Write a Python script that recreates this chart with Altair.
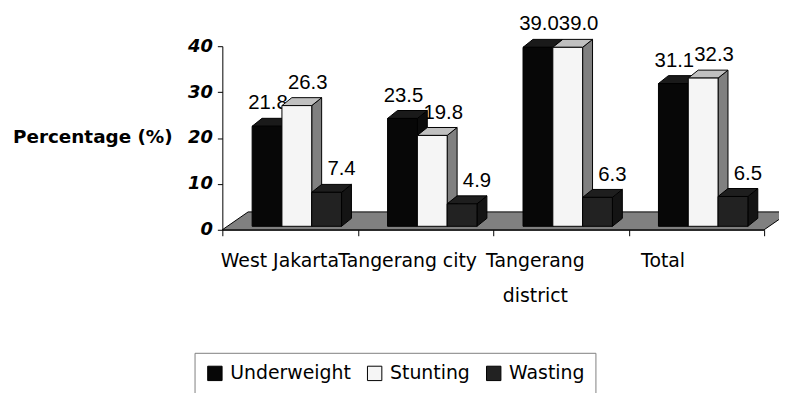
import altair as alt
import pandas as pd

# ---- data ----
categories = ["West Jakarta", "Tangerang city", "Tangerang district", "Total"]
series = ["Underweight", "Stunting", "Wasting"]
underweight = [21.8, 23.5, 39.0, 31.1]
stunting = [26.3, 19.8, 39.0, 32.3]
wasting = [7.4, 4.9, 6.3, 6.5]
y_ticks = [0, 10, 20, 30, 40]

# ---- styling constants (pseudo-3D geometry in axis units) ----
W, H = 546, 185
PX_X = W / 4.0            # px per category unit
PX_Y = H / 40.0           # px per percentage point
GROUP_START = 0.22
BAR_W = 0.22
DX = 10 / PX_X            # depth shift to the right
DY = 8 / PX_Y             # depth shift upwards
BASE = 3.5 / PX_Y         # bars stand slightly inside the floor
FLOOR_DX = 26 / PX_X
FLOOR_DY = 18 / PX_Y
LABEL_DX_PX = [-4, 6, 10]
CAT_LABEL_START = 0.425
CAT_LABEL_STEP = 0.943

front_col = {"Underweight": "#070707", "Stunting": "#f5f5f5", "Wasting": "#222222"}
top_col = {"Underweight": "#1a1a1a", "Stunting": "#c0c0c0", "Wasting": "#1e1e1e"}
side_col = {"Underweight": "#0c0c0c", "Stunting": "#808080", "Wasting": "#141414"}

values = {"Underweight": underweight, "Stunting": stunting, "Wasting": wasting}

front_rows, side_rows, top_rows, label_rows = [], [], [], []
for i, cat in enumerate(categories):
    for j, s in enumerate(series):
        v = values[s][i]
        x0 = i + GROUP_START + j * BAR_W
        x1 = x0 + BAR_W
        bid = f"{i}-{j}"
        front_rows.append(dict(id=bid, series=s, x0=x0, x1=x1, y0=BASE, y1=v + BASE))
        side_rows += [
            dict(id=bid, x=x1, y=BASE, y2=v + BASE, c=side_col[s]),
            dict(id=bid, x=x1 + DX, y=BASE + DY, y2=v + BASE + DY, c=side_col[s]),
        ]
        top_rows += [
            dict(id=bid, y=v + BASE, x=x0, x2=x1, c=top_col[s]),
            dict(id=bid, y=v + BASE + DY, x=x0 + DX, x2=x1 + DX, c=top_col[s]),
        ]
        label_rows.append(dict(x=(x0 + x1) / 2 + DX / 2 + LABEL_DX_PX[j] / PX_X,
                               y=v + BASE + DY, t=f"{v:.1f}"))

front = pd.DataFrame(front_rows)
side = pd.DataFrame(side_rows)
top = pd.DataFrame(top_rows)
labels = pd.DataFrame(label_rows)
floor = pd.DataFrame([
    dict(y=0, x=0, x2=4),
    dict(y=FLOOR_DY, x=FLOOR_DX, x2=4 + FLOOR_DX),
])
cats = pd.DataFrame(dict(
    x=[CAT_LABEL_START + CAT_LABEL_STEP * i for i in range(len(categories))],
    y=[0] * len(categories),
    t=[c.replace("Tangerang district", "Tangerang\ndistrict") for c in categories],
))

xscale = alt.Scale(domain=[0, 4], nice=False, zero=False)
yscale = alt.Scale(domain=[0, 40], nice=False)

floor_layer = alt.Chart(floor).mark_area(
    orient="horizontal", fill="#808080", stroke="black", strokeWidth=1
).encode(
    y=alt.Y("y:Q", scale=yscale, axis=alt.Axis(
        values=y_ticks, title="Percentage (%)", titleAngle=0, titleAlign="center",
        titleBaseline="alphabetic", titleX=-131, titleY=97,
        titleFont="DejaVu Sans", titleFontSize=18.5, titleFontWeight="bold",
        titleColor="black",
        labelFont="DejaVu Sans", labelFontSize=18, labelFontWeight="bold",
        labelFontStyle="italic", labelColor="black", labelPadding=5,
        tickSize=5, tickColor="black", domainColor="black", grid=False)),
    x=alt.X("x:Q", scale=xscale, axis=alt.Axis(
        values=[0, 1, 2, 3, 4], labels=False, title=None, tickSize=6,
        tickColor="black", domainColor="black", grid=False)),
    x2="x2:Q",
)

label_layer = alt.Chart(labels).mark_text(
    font="Liberation Sans", fontSize=20.5, color="black", baseline="alphabetic",
    align="center", dy=-9
).encode(x="x:Q", y="y:Q", text="t:N")

side_layer = alt.Chart(side).mark_area(stroke="black", strokeWidth=1).encode(
    x="x:Q", y="y:Q", y2="y2:Q", detail="id:N",
    fill=alt.Fill("c:N", scale=None),
)

top_layer = alt.Chart(top).mark_area(orient="horizontal", stroke="black", strokeWidth=1).encode(
    y="y:Q", x="x:Q", x2="x2:Q", detail="id:N",
    fill=alt.Fill("c:N", scale=None),
)

front_layer = alt.Chart(front).mark_rect(stroke="black", strokeWidth=1).encode(
    x="x0:Q", x2="x1:Q", y="y0:Q", y2="y1:Q",
    fill=alt.Fill("series:N",
                  scale=alt.Scale(domain=series, range=[front_col[s] for s in series]),
                  legend=alt.Legend(
                      title=None, orient="none", legendX=-28, legendY=309,
                      direction="horizontal", symbolType="square", symbolSize=210,
                      symbolStrokeColor="black", symbolStrokeWidth=1,
                      labelFont="DejaVu Sans", labelFontSize=19, labelColor="black",
                      labelOffset=6, columnPadding=14, padding=11,
                      strokeColor="#808080", fillColor="white")),
)

cat_layer = alt.Chart(cats).mark_text(
    font="DejaVu Sans", fontSize=19, color="black", baseline="alphabetic",
    align="center", dy=38, lineBreak="\n", lineHeight=35
).encode(x="x:Q", y="y:Q", text="t:N")

chart = alt.layer(
    floor_layer, label_layer, side_layer, top_layer, front_layer, cat_layer
).resolve_scale(fill="independent").properties(
    width=W, height=H,
    autosize=alt.AutoSizeParams(type="none"),
    padding={"left": 216, "top": 37, "right": 15, "bottom": 163},
    background="white",
).configure_view(stroke=None)

chart.save("out.html", embed_options={"renderer": "svg", "actions": False})
